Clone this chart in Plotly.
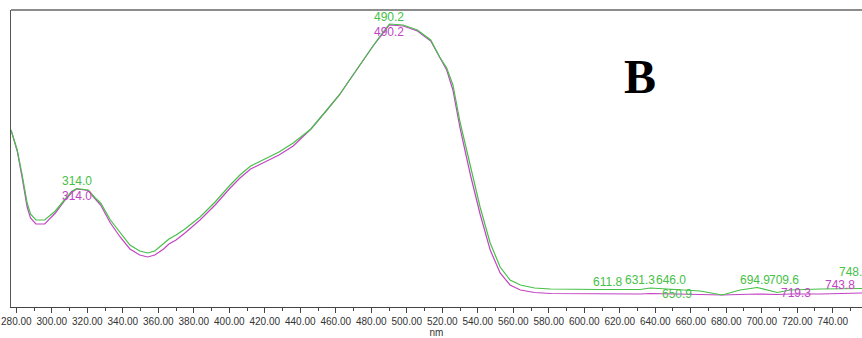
import numpy as np
import plotly.graph_objects as go

# Wavelength grid (nm) shared by both spectra
wavelength = [
    277.0, 280.5, 283.3, 286.1, 288.0, 291.0, 296.0, 302.0, 307.5, 311.5,
    314.0, 320.5, 324.5, 327.5, 333.0, 338.5, 344.0, 349.5, 354.0, 358.0,
    363.0, 366.0, 370.0, 375.0, 383.5, 392.0, 400.5, 406.0, 412.0, 420.0,
    428.0, 436.0, 443.0, 446.0, 455.0, 462.0, 467.0, 473.0, 481.0, 485.0,
    490.2, 498.0, 506.0, 513.5, 518.5, 522.5, 526.0, 530.0, 533.0, 536.0,
    541.3, 547.0, 552.6, 558.2, 564.0, 572.0, 581.0, 609.0, 631.5, 637.2,
    645.6, 665.3, 677.7, 687.8, 697.4, 708.7, 716.0, 733.0, 756.5,
]

# Absorbance of the two scans
abs_green = [
    0.708, 0.628, 0.528, 0.416, 0.372, 0.348, 0.348, 0.384, 0.432, 0.464,
    0.474, 0.468, 0.436, 0.416, 0.348, 0.296, 0.248, 0.224, 0.216, 0.224,
    0.252, 0.272, 0.288, 0.312, 0.360, 0.420, 0.488, 0.528, 0.564, 0.592,
    0.620, 0.656, 0.696, 0.712, 0.788, 0.848, 0.900, 0.964, 1.044, 1.084,
    1.132, 1.128, 1.108, 1.068, 1.000, 0.956, 0.888, 0.740, 0.648, 0.556,
    0.400, 0.256, 0.160, 0.108, 0.088, 0.076, 0.072, 0.070, 0.070, 0.076,
    0.072, 0.064, 0.048, 0.068, 0.078, 0.058, 0.068, 0.072, 0.074,
]
abs_magenta = [
    0.708, 0.624, 0.516, 0.400, 0.356, 0.332, 0.332, 0.376, 0.428, 0.460,
    0.472, 0.466, 0.432, 0.408, 0.336, 0.280, 0.232, 0.208, 0.200, 0.208,
    0.232, 0.252, 0.268, 0.296, 0.348, 0.408, 0.476, 0.516, 0.552, 0.580,
    0.608, 0.644, 0.692, 0.712, 0.788, 0.848, 0.900, 0.964, 1.044, 1.080,
    1.128, 1.124, 1.104, 1.064, 0.996, 0.948, 0.868, 0.716, 0.620, 0.524,
    0.372, 0.228, 0.136, 0.088, 0.068, 0.058, 0.054, 0.052, 0.052, 0.054,
    0.052, 0.050, 0.048, 0.050, 0.052, 0.050, 0.052, 0.052, 0.056,
]

# Peak / valley picks for each scan
green_picks = [314.0, 490.2, 611.8, 631.3, 646.0, 650.9, 694.9, 709.6, 748.1]
magenta_picks = [314.0, 490.2, 719.3, 743.8]

tick_values = [280, 300, 320, 340, 360, 380, 400, 420, 440, 460, 480,
               500, 520, 540, 560, 580, 600, 620, 640, 660, 680, 700, 720, 740]

GREEN = "#46c046"
MAGENTA = "#c244c4"

fig = go.Figure()
fig.add_trace(go.Scatter(x=wavelength, y=abs_magenta, mode="lines",
                         line=dict(color=MAGENTA, width=1.2), hoverinfo="skip"))
fig.add_trace(go.Scatter(x=wavelength, y=abs_green, mode="lines",
                         line=dict(color=GREEN, width=1.2), hoverinfo="skip"))

# label offsets (px): (xshift, yshift)
green_shift = {314.0: (0, 8), 490.2: (0, 7), 611.8: (2, 8), 631.3: (0, 9.5),
               646.0: (5, 9), 650.9: (2, -4), 694.9: (2, 8), 709.6: (5, 12),
               748.1: (7, 17)}
magenta_shift = {314.0: (0, -7), 490.2: (0, -7), 719.3: (0, 1), 743.8: (1, 9)}

label_font = dict(family="Liberation Sans, Arial, sans-serif", size=12)
for p in green_picks:
    xs, ys = green_shift[p]
    fig.add_annotation(x=p, y=float(np.interp(p, wavelength, abs_green)),
                       text=f"{p:.1f}", showarrow=False, xshift=xs, yshift=ys,
                       font=dict(color=GREEN, **label_font))
for p in magenta_picks:
    xs, ys = magenta_shift[p]
    fig.add_annotation(x=p, y=float(np.interp(p, wavelength, abs_magenta)),
                       text=f"{p:.1f}", showarrow=False, xshift=xs, yshift=ys,
                       font=dict(color=MAGENTA, **label_font))

# panel letter
fig.add_annotation(xref="paper", yref="paper", x=0.760, y=0.871,
                   text="<b>B</b>", showarrow=False,
                   font=dict(family="Liberation Serif, Times New Roman, serif",
                             size=48, color="black"))

# top frame edge
fig.add_shape(type="line", xref="paper", yref="paper", x0=0, x1=1.02, y0=1, y1=1,
              line=dict(color="#8c8c8c", width=2))

fig.update_layout(
    width=862, height=338,
    margin=dict(l=11, r=0, t=10, b=31),
    paper_bgcolor="white", plot_bgcolor="white",
    showlegend=False,
    xaxis=dict(range=[277.0, 756.5], tickvals=tick_values,
               tickformat=".2f", ticks="outside", ticklen=5, tickcolor="#444",
               minor=dict(dtick=10, tick0=0, ticks="outside", ticklen=3, tickcolor="#444"),
               showline=True, linecolor="#444", linewidth=1,
               showgrid=False, zeroline=False, ticklabeloverflow="allow",
               tickfont=dict(family="Liberation Sans, Arial, sans-serif", size=10, color="#333"),
               title=dict(text="nm", standoff=2,
                          font=dict(family="Liberation Sans, Arial, sans-serif", size=10, color="#333"))),
    yaxis=dict(range=[0, 1.188], showticklabels=False, ticks="",
               showline=True, linecolor="#555", linewidth=1,
               showgrid=False, zeroline=False),
)

fig.write_html("out.html")
